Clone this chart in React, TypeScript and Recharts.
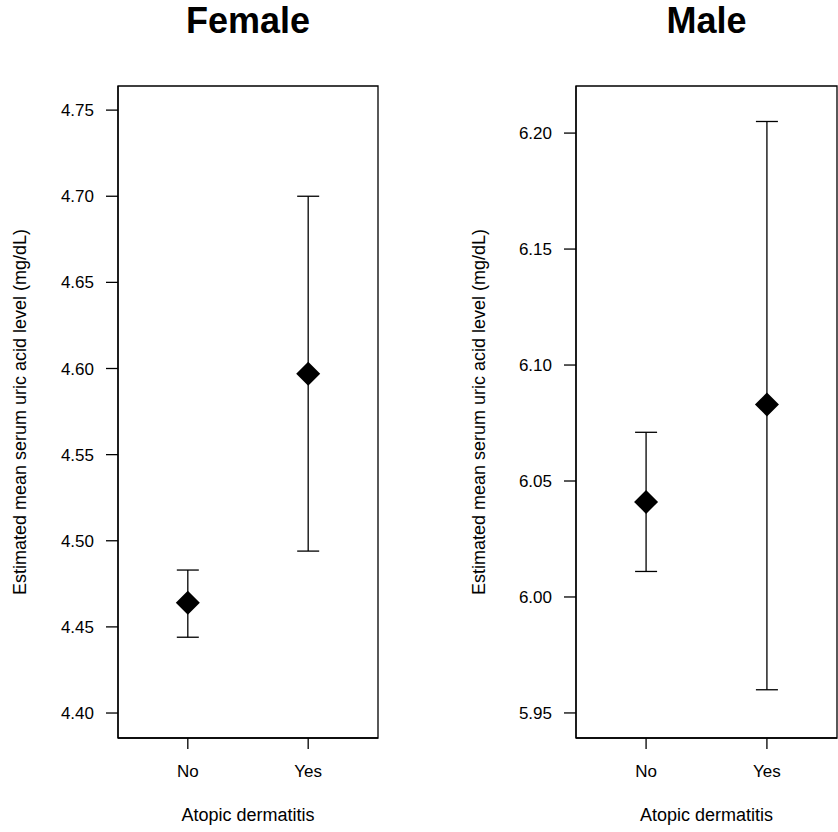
import React from "react";
import {
  ComposedChart,
  Scatter,
  ErrorBar,
  XAxis,
  YAxis,
  Label,
  ReferenceArea,
} from "recharts";

// values
const groups = ["No", "Yes"];

const femaleMean = [4.464, 4.597];
const femaleLower = [4.444, 4.494];
const femaleUpper = [4.483, 4.7];

const maleMean = [6.041, 6.083];
const maleLower = [6.011, 5.96];
const maleUpper = [6.071, 6.205];

const femaleTicks = [4.4, 4.45, 4.5, 4.55, 4.6, 4.65, 4.7, 4.75];
const maleTicks = [5.95, 6.0, 6.05, 6.1, 6.15, 6.2];

const femaleDomain: [number, number] = [4.3855, 4.764];
const maleDomain: [number, number] = [5.9392, 6.2203];
const xDomain: [number, number] = [0.42, 2.58];

const FONT = "'Liberation Sans', Arial, Helvetica, sans-serif";
const LINE = { stroke: "#000", strokeWidth: 1.3 };

const buildRows = (mean: number[], lower: number[], upper: number[]) =>
  groups.map((g, i) => ({
    x: i + 1,
    group: g,
    mean: mean[i],
    err: [mean[i] - lower[i], upper[i] - mean[i]],
  }));

const Diamond = (props: any) => {
  const { cx, cy } = props;
  const r = 12;
  return (
    <polygon
      points={`${cx},${cy - r} ${cx + r},${cy} ${cx},${cy + r} ${cx - r},${cy}`}
      fill="#000"
    />
  );
};

type PanelProps = {
  title: string;
  mean: number[];
  lower: number[];
  upper: number[];
  ticks: number[];
  domain: [number, number];
  axisWidth: number;
  marginRight: number;
  yLabelX: number;
};

function Panel({
  title,
  mean,
  lower,
  upper,
  ticks,
  domain,
  axisWidth,
  marginRight,
  yLabelX,
}: PanelProps) {
  const rows = buildRows(mean, lower, upper);

  return (
    <ComposedChart
      width={419}
      height={832}
      data={rows}
      margin={{ top: 86, right: marginRight, bottom: 0, left: 0 }}
    >
      <XAxis
        dataKey="x"
        type="number"
        domain={xDomain}
        allowDataOverflow
        ticks={[1, 2]}
        tickFormatter={(v: number) => groups[v - 1]}
        height={94}
        axisLine={LINE}
        tickLine={LINE}
        tickSize={11}
        tickMargin={16}
        tick={{ fill: "#000", fontSize: 17, fontFamily: FONT }}
      >
        <Label
          content={(p: any) => {
            const vb = p.viewBox;
            const cx = vb.x + vb.width / 2;
            return (
              <g>
                <text
                  x={cx}
                  y={821}
                  textAnchor="middle"
                  fontSize={18}
                  fontFamily={FONT}
                  fill="#000"
                >
                  Atopic dermatitis
                </text>
                <text
                  x={cx}
                  y={33}
                  textAnchor="middle"
                  fontSize={36}
                  fontWeight="bold"
                  fontFamily={FONT}
                  fill="#000"
                >
                  {title}
                </text>
              </g>
            );
          }}
        />
      </XAxis>
      <YAxis
        type="number"
        domain={domain}
        allowDataOverflow
        ticks={ticks}
        interval={0}
        tickFormatter={(v: number) => v.toFixed(2)}
        width={axisWidth}
        axisLine={LINE}
        tickLine={LINE}
        tickSize={12}
        tickMargin={12}
        tick={{ fill: "#000", fontSize: 17, fontFamily: FONT }}
      >
        <Label
          content={(p: any) => {
            const vb = p.viewBox;
            const cy = vb.y + vb.height / 2;
            return (
              <text
                transform={`translate(${yLabelX}, ${cy}) rotate(-90)`}
                textAnchor="middle"
                fontSize={18}
                fontFamily={FONT}
                fill="#000"
              >
                Estimated mean serum uric acid level (mg/dL)
              </text>
            );
          }}
        />
      </YAxis>
      <ReferenceArea
        x1={xDomain[0]}
        x2={xDomain[1]}
        y1={domain[0]}
        y2={domain[1]}
        fill="none"
        fillOpacity={0}
        stroke="#000"
        strokeWidth={1.3}
        strokeOpacity={1}
        ifOverflow="visible"
      />
      <Scatter dataKey="mean" shape={Diamond} isAnimationActive={false}>
        <ErrorBar
          dataKey="err"
          direction="y"
          width={11}
          stroke="#000"
          strokeWidth={1.3}
          isAnimationActive={false}
        />
      </Scatter>
    </ComposedChart>
  );
}

export default function App() {
  return (
    <div
      style={{
        position: "absolute",
        top: 0,
        left: 0,
        width: 838,
        height: 832,
        display: "flex",
        background: "#fff",
      }}
    >
      <Panel
        title="Female"
        mean={femaleMean}
        lower={femaleLower}
        upper={femaleUpper}
        ticks={femaleTicks}
        domain={femaleDomain}
        axisWidth={118}
        marginRight={41}
        yLabelX={26}
      />
      <Panel
        title="Male"
        mean={maleMean}
        lower={maleLower}
        upper={maleUpper}
        ticks={maleTicks}
        domain={maleDomain}
        axisWidth={157}
        marginRight={1}
        yLabelX={66}
      />
    </div>
  );
}
